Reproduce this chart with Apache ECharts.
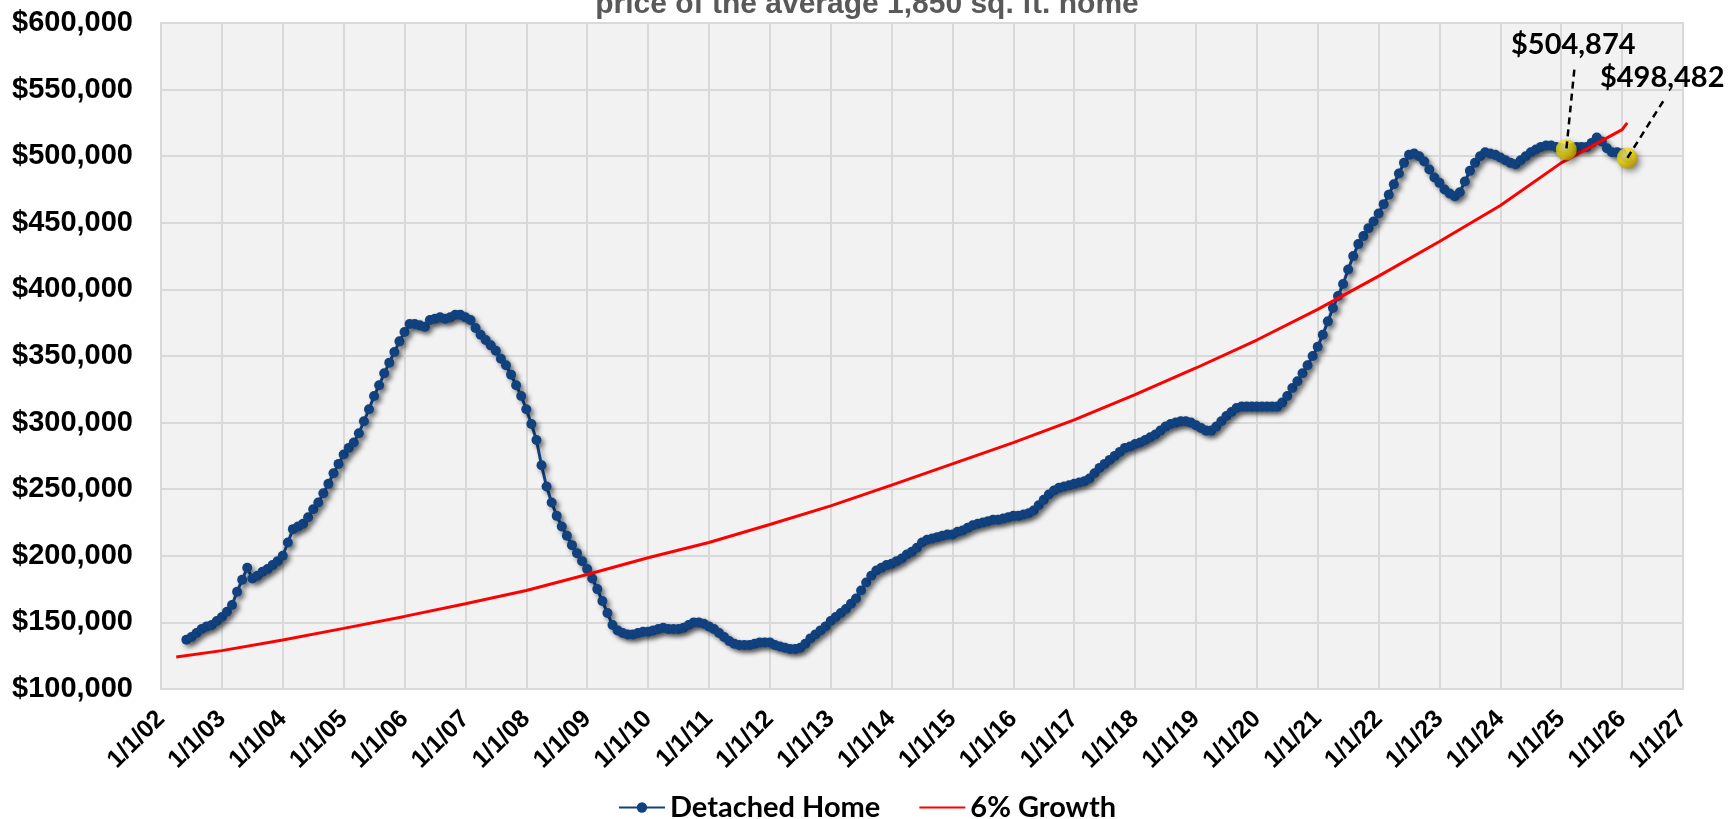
<!DOCTYPE html>
<html>
<head>
<meta charset="utf-8">
<script src="https://cdn.jsdelivr.net/npm/echarts@6/dist/echarts.min.js"></script>
<style>
html,body{margin:0;padding:0;background:#fff;}
#chart{width:1734px;height:819px;}
</style>
</head>
<body>
<div id="chart"></div>
<script>
// ---------- DATA ----------
const chartTitle = 'price of the average 1,850 sq. ft. home';
const seriesNames = ['Detached Home', '6% Growth'];

// Detached Home: monthly values, first month = June 2002, last = Feb 2026
const homeStartYear = 2002;
const homeStartMonth = 6; // June
const detachedHome = [
  // 2002 (Jun-Dec)
  137000, 139000, 142000, 145000, 147000, 148000, 151000,
  // 2003
  154000, 158000, 163000, 173000, 182000, 191000, 183000, 185000, 188000, 190000, 193000, 196000,
  // 2004
  200000, 210000, 220000, 222000, 224000, 229000, 235000, 240000, 247000, 254000, 262000, 269000,
  // 2005
  276000, 281000, 285000, 292000, 301000, 310000, 320000, 328000, 337000, 345000, 353000, 361000,
  // 2006
  368000, 374000, 374000, 373000, 372000, 377000, 378000, 379000, 378000, 379000, 381000, 381000,
  // 2007
  379000, 377000, 371000, 366000, 362000, 358000, 354000, 348000, 343000, 336000, 328000, 320000,
  // 2008
  310000, 299000, 287000, 268000, 252000, 240000, 230000, 222000, 215000, 208000, 202000, 196000,
  // 2009
  190000, 183000, 175000, 166000, 157000, 148000, 144000, 142000, 141000, 141000, 142000, 143000,
  // 2010
  143000, 144000, 145000, 146000, 145000, 145000, 145000, 146000, 148000, 150000, 150000, 149000,
  // 2011
  147000, 145000, 142000, 139000, 136000, 134000, 133000, 133000, 133000, 134000, 135000, 135000,
  // 2012
  135000, 133000, 132000, 131000, 130000, 130000, 131000, 134000, 138000, 141000, 144000, 147000,
  // 2013
  151000, 154000, 157000, 160000, 164000, 168000, 174000, 180000, 185000, 189000, 191000, 193000,
  // 2014
  194000, 196000, 198000, 201000, 203000, 206000, 210000, 212000, 213000, 214000, 215000, 216000,
  // 2015
  216000, 218000, 219000, 221000, 223000, 224000, 225000, 226000, 227000, 227000, 228000, 229000,
  // 2016
  230000, 230000, 231000, 232000, 234000, 238000, 242000, 246000, 249000, 251000, 252000, 253000,
  // 2017
  254000, 255000, 256000, 258000, 262000, 266000, 269000, 272000, 275000, 278000, 281000, 282000,
  // 2018
  284000, 285000, 287000, 289000, 291000, 294000, 297000, 299000, 300000, 301000, 301000, 300000,
  // 2019
  298000, 296000, 294000, 294000, 297000, 301000, 305000, 308000, 311000, 312000, 312000, 312000,
  // 2020
  312000, 312000, 312000, 312000, 312000, 315000, 320000, 326000, 331000, 337000, 343000, 350000,
  // 2021
  357000, 366000, 376000, 386000, 395000, 404000, 415000, 425000, 434000, 440000, 446000, 451000,
  // 2022
  457000, 464000, 471000, 479000, 487000, 495000, 501000, 502000, 500000, 496000, 490000, 484000,
  // 2023
  480000, 475000, 472000, 470000, 473000, 481000, 489000, 495000, 500000, 503000, 502000, 501000,
  // 2024
  499000, 497000, 495000, 494000, 497000, 500000, 503000, 505000, 507000, 508000, 508000, 507000,
  // 2025
  506000, 504874, 506000, 507000, 507000, 507000, 510000, 514000, 511000, 506000, 503000, 503000,
  // 2026 (Jan-Feb)
  502000, 498482
];

// 6% Growth line, read at these dates
const growthDates = ['2002-04','2003-01','2004-01','2005-01','2006-01','2007-01','2008-01','2009-01',
  '2010-01','2011-01','2012-01','2013-01','2014-01','2015-01','2016-01','2017-01','2018-01',
  '2019-01','2020-01','2021-01','2022-01','2023-01','2024-01','2025-01','2026-01','2026-02'];
const growthValues = [124000, 128800, 136800, 145500, 154500, 164000, 174000, 186000,
  198500, 210000, 223500, 237500, 253000, 269000, 285000, 302000, 321000,
  341000, 362000, 385000, 410000, 436000, 463000, 495000, 520000, 525000];

// highlighted points
const highlightDates = ['2025-02', '2026-02'];
const highlightValues = [504874, 498482];

// axis ticks
const xTickLabels = ['1/1/02','1/1/03','1/1/04','1/1/05','1/1/06','1/1/07','1/1/08','1/1/09','1/1/10',
  '1/1/11','1/1/12','1/1/13','1/1/14','1/1/15','1/1/16','1/1/17','1/1/18','1/1/19','1/1/20',
  '1/1/21','1/1/22','1/1/23','1/1/24','1/1/25','1/1/26','1/1/27'];
const xFirstYear = 2002;
const yMin = 100000, yMax = 600000, yStep = 50000;

// ---------- BUILD ----------
function ymToX(s) {
  const [y, m] = s.split('-').map(Number);
  return y + (m - 1) / 12;
}
const homePoints = detachedHome.map((v, i) => {
  const mIdx = homeStartMonth - 1 + i;
  return [homeStartYear + mIdx / 12, v];
});
const growthPoints = growthDates.map((d, i) => [ymToX(d), growthValues[i]]);
const highlightPoints = highlightDates.map((d, i) => [ymToX(d), highlightValues[i]]);

const chart = echarts.init(document.getElementById('chart'), null, {renderer: 'canvas'});
const blue = '#11427F';

const option = {
  animation: false,
  backgroundColor: '#ffffff',
  title: {
    text: chartTitle,
    left: 'center',
    top: -15,
    textStyle: {fontFamily: 'Liberation Sans', fontSize: 30, fontWeight: 'bold', color: '#595959'}
  },
  grid: {
    left: 161, right: 51, top: 23, bottom: 130,
    show: true, backgroundColor: '#F2F2F2', borderColor: '#D9D9D9', borderWidth: 2
  },
  legend: {
    data: [seriesNames[0], {name: seriesNames[1], itemStyle: {opacity: 0}}],
    left: 'center',
    top: 788,
    itemWidth: 46,
    itemHeight: 13,
    itemGap: 38,
    textStyle: {fontFamily: 'Lato', fontSize: 29, fontWeight: 'bold', color: '#000'}
  },
  xAxis: {
    type: 'value',
    min: xFirstYear,
    max: xFirstYear + xTickLabels.length - 1,
    interval: 1,
    axisLine: {show: false},
    axisTick: {show: false},
    splitLine: {show: true, lineStyle: {color: '#D9D9D9', width: 2}},
    axisLabel: {
      rotate: 45,
      margin: 26,
      fontFamily: 'Liberation Sans',
      fontSize: 25,
      fontWeight: 'bold',
      color: '#000',
      formatter: v => xTickLabels[Math.round(v) - xFirstYear] || ''
    }
  },
  yAxis: {
    type: 'value',
    min: yMin, max: yMax, interval: yStep,
    axisLine: {show: false},
    axisTick: {show: false},
    splitLine: {show: true, lineStyle: {color: '#D9D9D9', width: 2}},
    axisLabel: {
      margin: 28,
      fontFamily: 'Liberation Sans',
      fontSize: 29,
      fontWeight: 'bold',
      color: '#000',
      formatter: v => '$' + v.toLocaleString('en-US')
    }
  },
  series: [
    {
      name: seriesNames[0],
      type: 'line',
      data: homePoints,
      symbol: 'circle',
      symbolSize: 10,
      showAllSymbol: true,
      z: 3,
      itemStyle: {color: blue, shadowColor: 'rgba(0,0,0,0.45)', shadowBlur: 5, shadowOffsetX: 3, shadowOffsetY: 3},
      lineStyle: {color: blue, width: 3, shadowColor: 'rgba(0,0,0,0.35)', shadowBlur: 5, shadowOffsetX: 3, shadowOffsetY: 3}
    },
    {
      name: seriesNames[1],
      type: 'line',
      data: growthPoints,
      symbol: 'none',
      z: 4,
      itemStyle: {color: '#FF0000'},
      lineStyle: {color: '#FF0000', width: 3}
    },
    {
      name: 'highlight',
      type: 'scatter',
      data: highlightPoints,
      symbolSize: 21,
      z: 5,
      itemStyle: {
        color: new echarts.graphic.RadialGradient(0.4, 0.35, 0.65, [
          {offset: 0, color: '#FFF58A'},
          {offset: 0.55, color: '#F2DA00'},
          {offset: 1, color: '#B89A00'}
        ]),
        shadowColor: 'rgba(0,0,0,0.5)', shadowBlur: 6, shadowOffsetX: 3, shadowOffsetY: 3
      }
    }
  ]
};
chart.setOption(option);

// annotation leader lines + labels, anchored to the data points via the axes
const annotOffsets = [
  {lx: 8, ly: -80, tx: 7, ty: -105},
  {lx: 36, ly: -57, tx: 35, ty: -81}
];
const graphics = [];
highlightPoints.forEach((p, i) => {
  const px = chart.convertToPixel({gridIndex: 0}, p);
  const o = annotOffsets[i];
  graphics.push({
    type: 'line', z: 100,
    shape: {x1: px[0] + o.lx, y1: px[1] + o.ly, x2: px[0], y2: px[1]},
    style: {stroke: '#000', lineWidth: 2.5, lineDash: [7, 5]}
  });
  graphics.push({
    type: 'text', z: 100,
    x: px[0] + o.tx, y: px[1] + o.ty,
    style: {
      text: '$' + p[1].toLocaleString('en-US'),
      font: 'bold 29px Lato',
      fill: '#000',
      align: 'center',
      verticalAlign: 'middle'
    }
  });
});
chart.setOption({graphic: graphics});
</script>
</body>
</html>
